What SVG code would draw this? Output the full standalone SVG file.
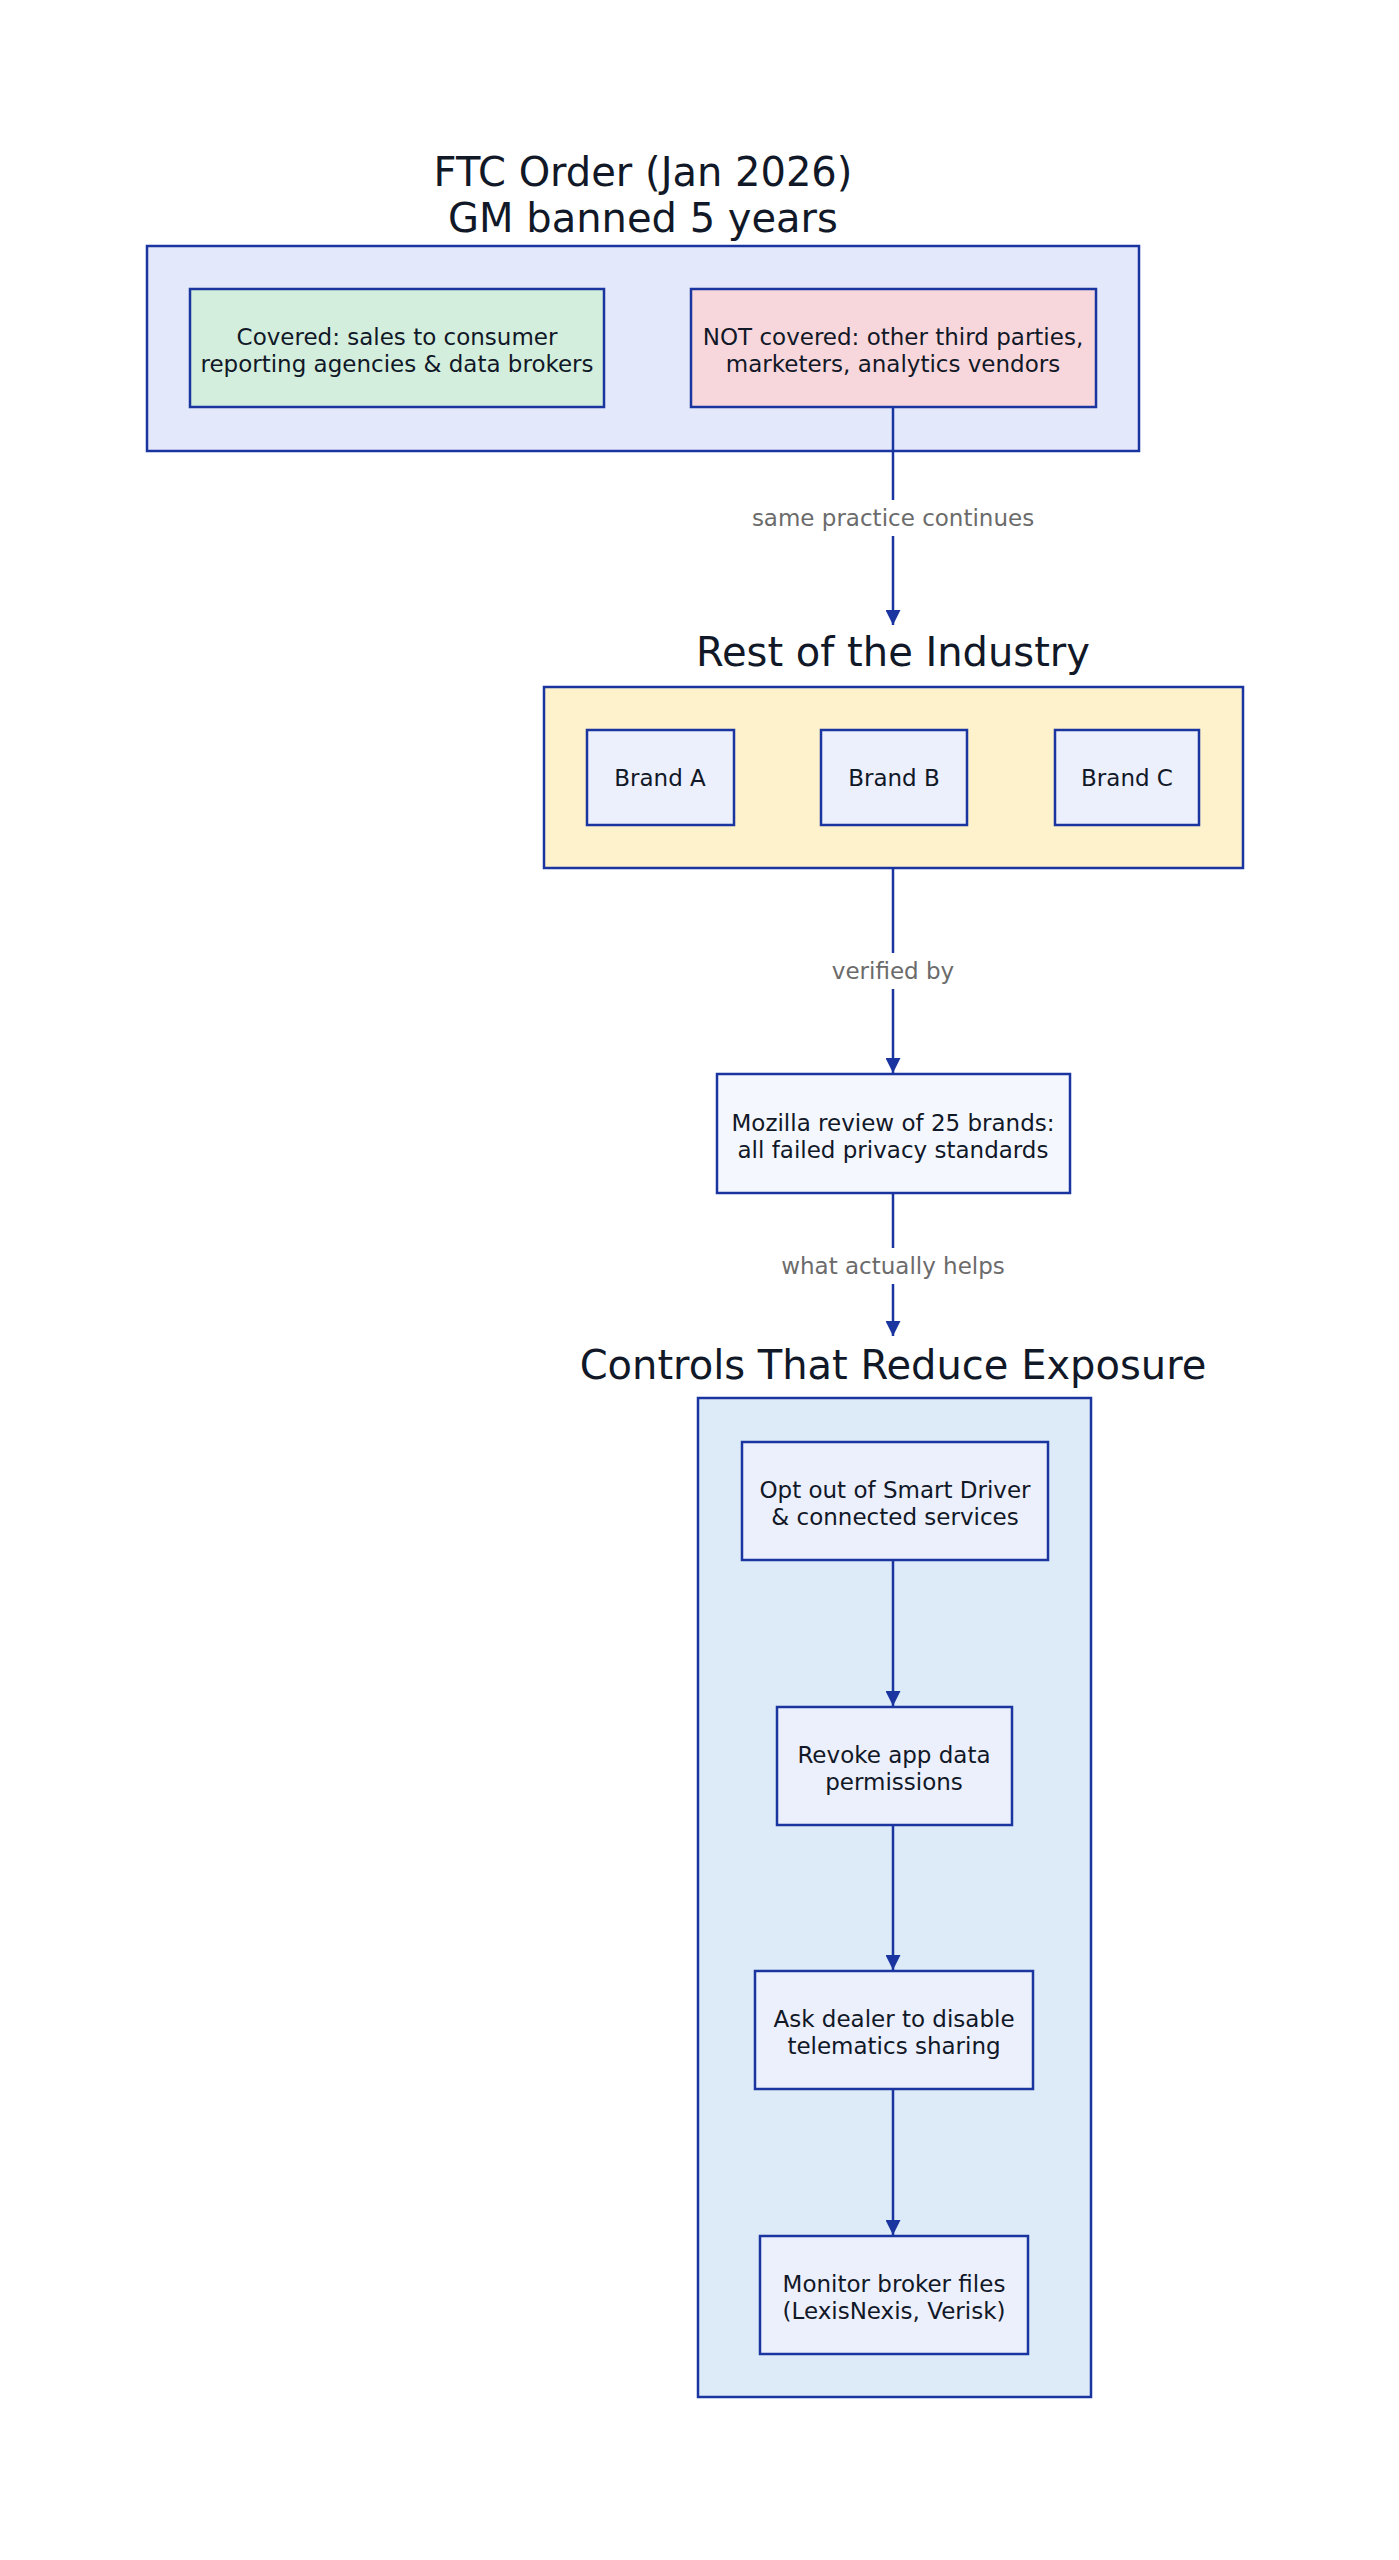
<svg xmlns="http://www.w3.org/2000/svg" width="1399" height="2560" viewBox="0 0 1399 2560">
<style>
text{font-family:"DejaVu Sans",sans-serif;fill:#111827;text-anchor:middle}
.t{font-size:23px}
.h{font-size:40px}
.l{font-size:23px;fill:#6b6b6b}
.n{stroke:#1a35a0;stroke-width:2.5}
.e{stroke:#1a35a0;stroke-width:2.5;fill:none;marker-end:url(#a)}
</style>
<defs><marker id="a" viewBox="0 0 10 10" refX="10" refY="5" markerWidth="6" markerHeight="6" orient="auto"><path d="M0,0L10,5L0,10z" fill="#1a35a0"/></marker></defs>
<rect width="1399" height="2560" fill="#fff"/>
<g id="ftc">
<rect class="n" x="147" y="246" width="992" height="205" fill="#e3e8fb"/>
<text class="h" x="643" y="186">FTC Order (Jan 2026)</text>
<text class="h" x="643" y="232">GM banned 5 years</text>
</g>
<g id="covered"><rect class="n" x="190" y="289" width="414" height="118" fill="#d4eedd"/>
<text class="t" x="397" y="345">Covered: sales to consumer</text><text class="t" x="397" y="372">reporting agencies &amp; data brokers</text></g>
<g id="notcovered"><rect class="n" x="691" y="289" width="405" height="118" fill="#f8d7dc"/>
<text class="t" x="893" y="345">NOT covered: other third parties,</text><text class="t" x="893" y="372">marketers, analytics vendors</text></g>
<g id="industry"><rect class="n" x="544" y="687" width="699" height="181" fill="#fef2cd"/>
<text class="h" x="893" y="666">Rest of the Industry</text></g>
<g id="brandA"><rect class="n" x="587" y="730" width="147" height="95" fill="#eceffc"/><text class="t" x="660" y="786">Brand A</text></g>
<g id="brandB"><rect class="n" x="821" y="730" width="146" height="95" fill="#eceffc"/><text class="t" x="894" y="786">Brand B</text></g>
<g id="brandC"><rect class="n" x="1055" y="730" width="144" height="95" fill="#eceffc"/><text class="t" x="1127" y="786">Brand C</text></g>
<g id="mozilla"><rect class="n" x="717" y="1074" width="353" height="119" fill="#f5f7fe"/>
<text class="t" x="893" y="1131">Mozilla review of 25 brands:</text><text class="t" x="893" y="1158">all failed privacy standards</text></g>
<g id="controls"><rect class="n" x="698" y="1398" width="393" height="999" fill="#dcebf7"/>
<text class="h" x="893" y="1379">Controls That Reduce Exposure</text></g>
<g id="optout"><rect class="n" x="742" y="1442" width="306" height="118" fill="#eceffc"/>
<text class="t" x="895" y="1498">Opt out of Smart Driver</text><text class="t" x="895" y="1525">&amp; connected services</text></g>
<g id="revoke"><rect class="n" x="777" y="1707" width="235" height="118" fill="#eceffc"/>
<text class="t" x="894" y="1763">Revoke app data</text><text class="t" x="894" y="1790">permissions</text></g>
<g id="dealer"><rect class="n" x="755" y="1971" width="278" height="118" fill="#eceffc"/>
<text class="t" x="894" y="2027">Ask dealer to disable</text><text class="t" x="894" y="2054">telematics sharing</text></g>
<g id="monitor"><rect class="n" x="760" y="2236" width="268" height="118" fill="#eceffc"/>
<text class="t" x="894" y="2292">Monitor broker files</text><text class="t" x="894" y="2319">(LexisNexis, Verisk)</text></g>
<g id="connectors">
<path class="e" d="M893,407V625"/>
<rect x="740" y="500" width="306" height="36" fill="#fff"/>
<text class="l" x="893" y="526">same practice continues</text>
<path class="e" d="M893,868V1073"/>
<rect x="820" y="953" width="146" height="36" fill="#fff"/>
<text class="l" x="893" y="979">verified by</text>
<path class="e" d="M893,1193V1336"/>
<rect x="770" y="1248" width="246" height="36" fill="#fff"/>
<text class="l" x="893" y="1274">what actually helps</text>
<path class="e" d="M893,1560V1706"/>
<path class="e" d="M893,1825V1970"/>
<path class="e" d="M893,2089V2235"/>
</g>
</svg>
